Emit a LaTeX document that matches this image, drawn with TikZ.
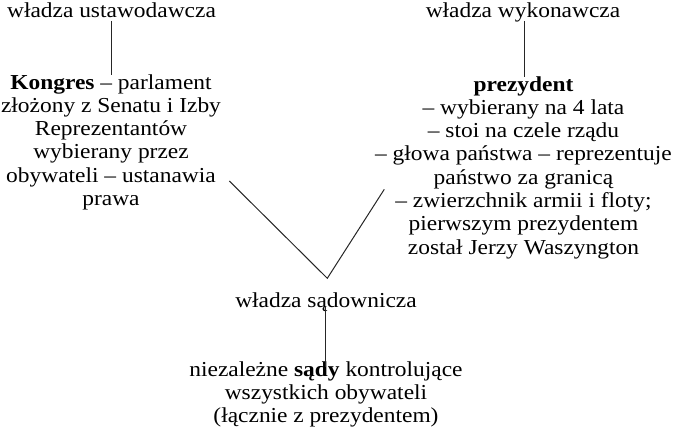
\documentclass[tikz,border=0pt]{standalone}
\usepackage{fontspec}
\setmainfont{Liberation Serif}[FakeStretch=1.1]
\usetikzlibrary{calc}
\newcommand{\fsz}{\fontsize{21.3}{23.3}\selectfont}
\newcommand{\blk}[1]{\setlength{\tabcolsep}{0pt}\renewcommand{\arraystretch}{1}\begin{tabular}[t]{@{}c@{}}#1\end{tabular}}
\tikzset{
  lbl/.style={inner sep=0pt, outer sep=0pt, anchor=base, font=\fsz},
  conn/.style={draw=black!85, line width=1pt}
}
\begin{document}
\begin{tikzpicture}[x=1pt,y=-1pt]
\useasboundingbox (0,0) rectangle (675,431);
\node[lbl] (ust) at (111.5,17) {\blk{władza ustawodawcza}};
\node[lbl] (wyk) at (523,17) {\blk{władza wykonawcza}};
\node[lbl] (kong) at (111,89) {\blk{\textbf{Kongres} – parlament\\złożony z Senatu i Izby\\Reprezentantów\\wybierany przez\\obywateli – ustanawia\\prawa}};
\node[lbl] (prez) at (523.5,91) {\blk{\textbf{prezydent}\\– wybierany na 4 lata\\– stoi na czele rządu\\– głowa państwa – reprezentuje\\państwo za granicą\\– zwierzchnik armii i floty;\\pierwszym prezydentem\\został Jerzy Waszyngton}};
\node[lbl] (sad) at (326,307) {\blk{władza sądownicza}};
\node[lbl] (niez) at (326,376) {\blk{niezależne \textbf{sądy} kontrolujące\\wszystkich obywateli\\(łącznie z prezydentem)}};
\coordinate (vL) at (229.3,181);
\coordinate (vR) at (384.3,189.3);
\coordinate (apex) at (327.3,278.3);
\draw[conn] ([xshift=0.2pt,yshift=3pt]ust.south) -- ([xshift=0.2pt,yshift=-2pt]ust.south |- kong.north);
\draw[conn] ([xshift=1pt,yshift=3pt]wyk.south) -- ([xshift=1pt,yshift=-2pt]wyk.south |- prez.north);
\draw[conn] (vL) -- (apex) -- (vR);
\draw[conn] ([xshift=-1pt,yshift=7.5pt]sad.south) -- ([xshift=-1pt,yshift=-7.5pt]sad.south |- niez.north);
\end{tikzpicture}
\end{document}
